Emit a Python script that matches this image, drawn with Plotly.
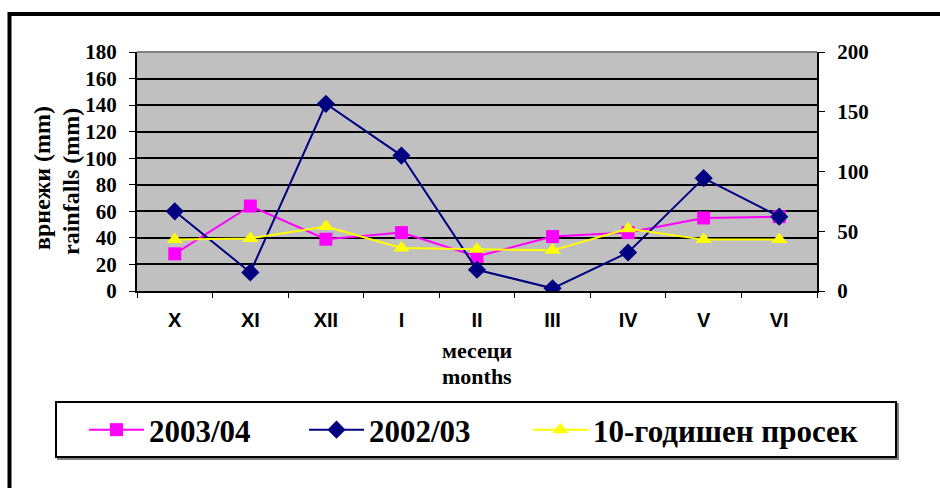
import plotly.graph_objects as go

months = ["X", "XI", "XII", "I", "II", "III", "IV", "V", "VI"]
rain_2003_04 = [28, 64, 39, 44, 26, 41, 44, 55, 56]
rain_2002_03 = [60, 14, 141, 102, 16, 2, 29, 85, 56]
avg_10y = [43, 44, 54, 36, 35, 34, 52, 43, 43]   # read on the right axis (0-200)

left_ticks = list(range(0, 181, 20))
right_ticks = list(range(0, 201, 50))

W, H = 940, 488
L, R, T, B = 137, 817, 52, 291


def px(x):
    return (x - L) / (R - L)


def py(y):
    return (B - y) / (B - T)


serif = "Liberation Serif"
fig = go.Figure()
fig.add_trace(go.Scatter(
    x=months, y=rain_2003_04, name="2003/04", mode="lines+markers",
    legend="legend",
    line=dict(color="#FF00FF", width=2),
    marker=dict(symbol="square", size=13, color="#FF00FF")))
fig.add_trace(go.Scatter(
    x=months, y=rain_2002_03, name="2002/03", mode="lines+markers",
    legend="legend2",
    line=dict(color="#000080", width=2),
    marker=dict(symbol="diamond", size=14, color="#000080")))
fig.add_trace(go.Scatter(
    x=months, y=avg_10y, name="10-годишен просек", mode="lines+markers",
    yaxis="y2", legend="legend3",
    line=dict(color="#FFFF00", width=2),
    marker=dict(symbol="triangle-up", size=14, color="#FFFF00")))

tickfont = dict(family=serif, size=21, color="black", weight="bold")
legfont = dict(family=serif, size=31, color="black", weight="bold")


def leg(x0):
    return dict(orientation="h", x=px(x0), xanchor="left", y=py(430), yanchor="middle",
                bgcolor="rgba(0,0,0,0)", borderwidth=0, itemwidth=55, font=legfont)


fig.update_layout(
    width=W, height=H,
    margin=dict(l=L, r=W - R, t=T, b=H - B, pad=0),
    paper_bgcolor="white",
    plot_bgcolor="#C0C0C0",
    showlegend=True,
    xaxis=dict(type="category", range=[-0.5, 8.5], tickson="boundaries",
               ticks="outside", ticklen=5, tickwidth=1, tickcolor="black",
               showline=True, linecolor="black", linewidth=2,
               showgrid=False, zeroline=False, ticklabelstandoff=10,
               tickfont=dict(family="Liberation Sans", size=20, color="black", weight="bold")),
    yaxis=dict(range=[0, 180], tickvals=left_ticks, ticks="outside", ticklen=6,
               tickcolor="black", showline=True, linecolor="black", linewidth=2,
               showgrid=True, gridcolor="black", gridwidth=2, zeroline=False,
               tickfont=tickfont, ticklabelstandoff=8),
    yaxis2=dict(range=[0, 200], tickvals=right_ticks, overlaying="y", side="right",
                anchor="x", ticks="outside", ticklen=6, tickcolor="black",
                showline=True, linecolor="black", linewidth=2, showgrid=False,
                zeroline=False, tickfont=tickfont, ticklabelstandoff=8),
    legend=leg(84),
    legend2=leg(304),
    legend3=leg(528),
)

shapes = []
# outer frame (left and top edges)
shapes.append(dict(type="line", xref="paper", yref="paper", x0=px(9.5), x1=px(945),
                   y0=py(14), y1=py(14), line=dict(color="black", width=4)))
shapes.append(dict(type="line", xref="paper", yref="paper", x0=px(9.5), x1=px(9.5),
                   y0=py(12), y1=py(495), line=dict(color="black", width=4)))
# legend box with shadow
shapes.append(dict(type="rect", xref="paper", yref="paper", x0=px(58), x1=px(898),
                   y0=py(404), y1=py(459), line=dict(color="#808080", width=2),
                   fillcolor="#808080", layer="below"))
shapes.append(dict(type="rect", xref="paper", yref="paper", x0=px(56), x1=px(896),
                   y0=py(402), y1=py(457), line=dict(color="black", width=2),
                   fillcolor="white", layer="below"))
# grey plot-area top border
shapes.append(dict(type="line", xref="paper", yref="paper", x0=0, x1=1, y0=1, y1=1,
                   line=dict(color="#808080", width=2)))
fig.update_layout(shapes=shapes)

ann_font = dict(family=serif, size=24, color="black", weight="bold")
fig.add_annotation(text="врнежи (mm)", xref="paper", yref="paper", x=px(42), y=py(178),
                   textangle=-90, showarrow=False, font=ann_font, xanchor="center", yanchor="middle")
fig.add_annotation(text="rainfalls (mm)", xref="paper", yref="paper", x=px(71), y=py(182),
                   textangle=-90, showarrow=False, font=ann_font, xanchor="center", yanchor="middle")
xt_font = dict(family=serif, size=22, color="black", weight="bold")
fig.add_annotation(text="месеци", xref="paper", yref="paper", x=px(477), y=py(350),
                   showarrow=False, font=xt_font, xanchor="center", yanchor="middle")
fig.add_annotation(text="months", xref="paper", yref="paper", x=px(477), y=py(376),
                   showarrow=False, font=xt_font, xanchor="center", yanchor="middle")

fig.write_html("out.html", config={"displayModeBar": False},
               post_script="document.body.style.margin='0';document.body.style.overflow='hidden';")
